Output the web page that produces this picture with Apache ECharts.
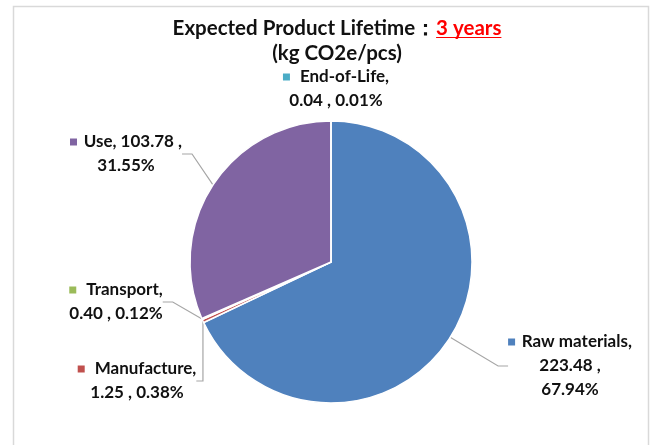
<!DOCTYPE html>
<html><head><meta charset="utf-8">
<script src="https://cdn.jsdelivr.net/npm/echarts@6/dist/echarts.min.js"></script>
<style>html,body{margin:0;padding:0;background:#fff}#c{width:654px;height:445px}</style>
</head><body><div id="c"></div>
<script>
const categories = ['Raw materials', 'Manufacture', 'Transport', 'Use', 'End-of-Life'];
const values = [223.48, 1.25, 0.40, 103.78, 0.04];
const percents = ['67.94%', '0.38%', '0.12%', '31.55%', '0.01%'];
const valueLabels = ['223.48', '1.25', '0.40', '103.78', '0.04'];
const colors = ['#4F81BD', '#C0504D', '#9BBB59', '#8064A2', '#4BACC6'];
const titleLine1 = 'Expected Product Lifetime：';
const titleHighlight = '3 years';
const titleLine2 = '(kg CO2e/pcs)';

// label layout: [centerX, topY] of each label block
const labelPos = [
  {x: 570, y: 330},
  {x: 137, y: 357},
  {x: 116, y: 278},
  {x: 126, y: 130},
  {x: 336, y: 65}
];

const FONT = 'Lato, "Open Sans", sans-serif';
const TITLE_SIZE = 20.5;
const chart = echarts.init(document.getElementById('c'));

function fmt(p) {
  const i = p.dataIndex;
  const sq = '{sq' + i + '|}';
  if (i === 0) return sq + '  {t|' + categories[i] + ',}\n{t|' + valueLabels[i] + ' ,}\n{t|' + percents[i] + '}';
  if (i === 3) return sq + '  {t|' + categories[i] + ', ' + valueLabels[i] + ' ,}\n{t|' + percents[i] + '}';
  return sq + '   {t|' + categories[i] + ',}\n{t|' + valueLabels[i] + ' , ' + percents[i] + '}';
}
const rich = {t: {fontFamily: FONT, fontWeight: 'bold', fontSize: 17, color: '#111', lineHeight: 24}};
colors.forEach((c, i) => { rich['sq' + i] = {width: 7, height: 7, backgroundColor: c}; });

const underline = {
  type: 'linear', x: 0, y: 0, x2: 0, y2: 1,
  colorStops: [
    {offset: 0, color: 'rgba(255,0,0,0)'},
    {offset: 0.885, color: 'rgba(255,0,0,0)'},
    {offset: 0.885, color: '#FF0000'},
    {offset: 0.945, color: '#FF0000'},
    {offset: 0.945, color: 'rgba(255,0,0,0)'},
    {offset: 1, color: 'rgba(255,0,0,0)'}
  ]
};

chart.setOption({
  animation: false,
  color: colors,
  title: {
    text: '{a|' + titleLine1 + '}{b|' + titleHighlight + '}\n{a|' + titleLine2 + '}',
    left: 337, top: 16, textAlign: 'center', padding: 0,
    textStyle: {
      rich: {
        a: {fontFamily: FONT, fontWeight: 'bold', fontSize: TITLE_SIZE, color: '#111', lineHeight: 25},
        b: {fontFamily: FONT, fontWeight: 'bold', fontSize: TITLE_SIZE, color: '#FF0000', lineHeight: 25, backgroundColor: underline}
      }
    }
  },
  graphic: [
    {type: 'rect', shape: {x: 13.5, y: 6.5, width: 635, height: 460}, style: {fill: 'none', stroke: '#D9D9D9', lineWidth: 1.5}, silent: true}
  ],
  series: [{
    type: 'pie',
    center: [331, 262],
    radius: 141,
    startAngle: 90,
    clockwise: true,
    avoidLabelOverlap: false,
    itemStyle: {borderColor: '#fff', borderWidth: 1.5},
    label: {show: true, position: 'outside', formatter: fmt, rich: rich, align: 'center'},
    labelLine: {show: true, length: 10, length2: 10, lineStyle: {color: '#A6A6A6', width: 1.2}},
    labelLayout: function (p) {
      const lp = labelPos[p.dataIndex];
      return {x: lp.x, y: lp.y, align: 'center', verticalAlign: 'top'};
    },
    data: categories.map((n, i) => ({
      name: n, value: values[i],
      labelLine: i === 4 ? {show: false} : undefined
    }))
  }]
});
</script></body></html>
